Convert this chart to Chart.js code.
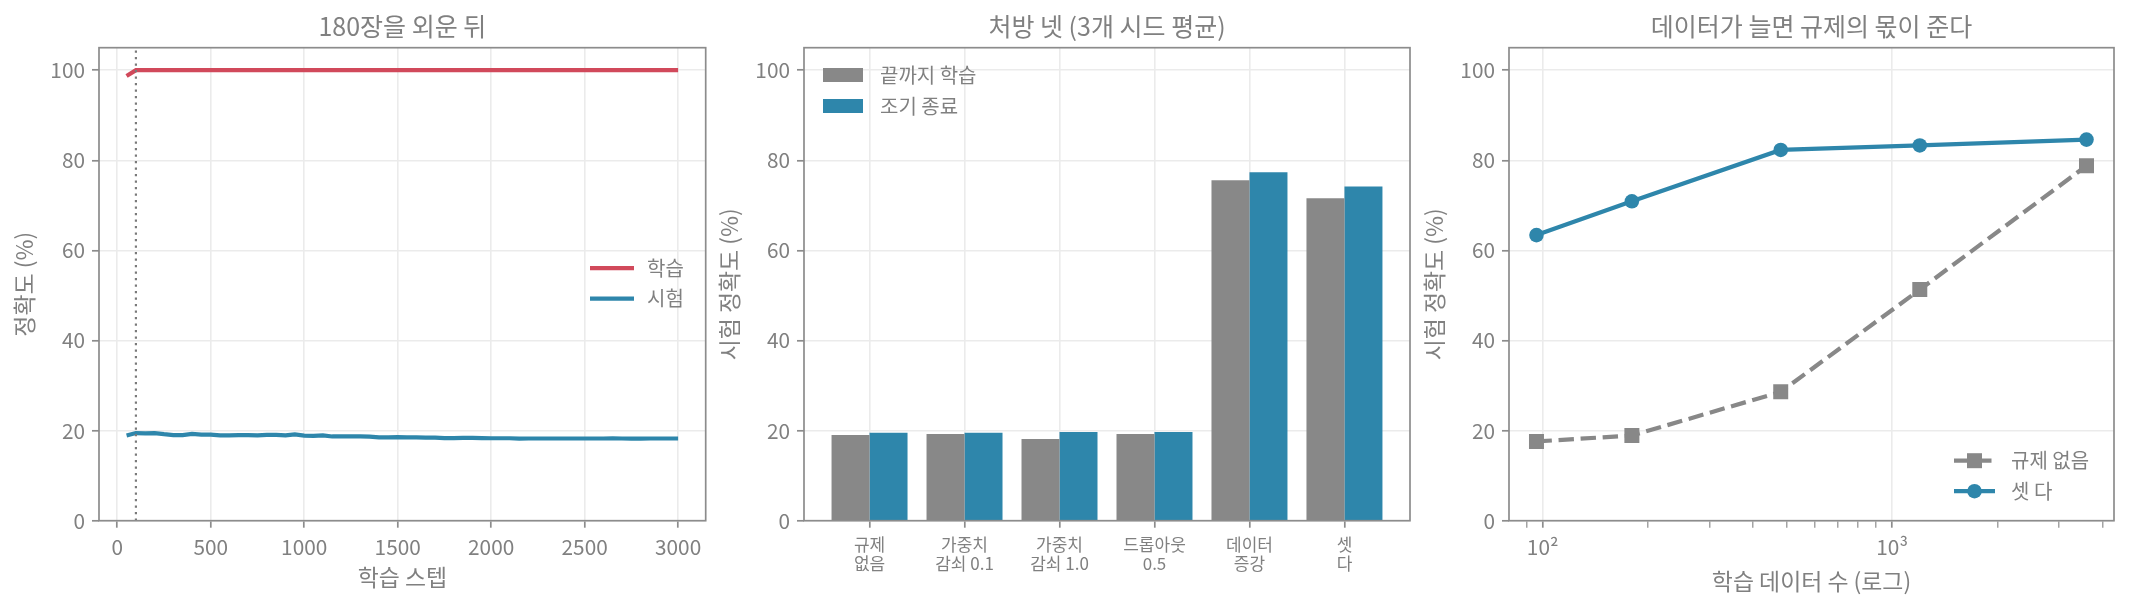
<!DOCTYPE html>
<html><head><meta charset="utf-8">
<script src="https://cdn.jsdelivr.net/npm/chart.js@4.4.1/dist/chart.umd.min.js"></script>
<style>
html,body{margin:0;padding:0;background:#fff;}
#wrap{position:relative;width:2130px;height:610px;background:#fff;}
canvas{position:absolute;top:0;}
</style></head><body>
<div id="wrap">
<canvas id="c1" width="710" height="610" style="left:0px"></canvas>
<canvas id="c2" width="710" height="610" style="left:710px"></canvas>
<canvas id="c3" width="710" height="610" style="left:1420px"></canvas>
</div>
<script>
// ---------- DATA ----------
// Panel 1: training curve after memorising 180 images
const steps = [50,100,150,200,250,300,350,400,450,500,550,600,650,700,750,800,850,900,950,1000,
  1050,1100,1150,1200,1250,1300,1350,1400,1450,1500,1550,1600,1650,1700,1750,1800,1850,1900,1950,2000,
  2050,2100,2150,2200,2250,2300,2350,2400,2450,2500,2550,2600,2650,2700,2750,2800,2850,2900,2950,3000];
const trainAcc = [98.7,100,100,100,100,100,100,100,100,100,100,100,100,100,100,100,100,100,100,100,
  100,100,100,100,100,100,100,100,100,100,100,100,100,100,100,100,100,100,100,100,
  100,100,100,100,100,100,100,100,100,100,100,100,100,100,100,100,100,100,100,100];
const testAcc = [18.9,19.45,19.4,19.45,19.2,19.0,19.0,19.25,19.1,19.1,18.95,18.95,19.0,19.0,18.95,19.05,19.05,18.95,19.15,18.9,
  18.85,18.95,18.7,18.7,18.7,18.7,18.65,18.5,18.5,18.55,18.5,18.5,18.45,18.45,18.35,18.35,18.4,18.4,18.35,18.3,
  18.3,18.3,18.2,18.25,18.25,18.25,18.25,18.25,18.25,18.25,18.25,18.25,18.3,18.25,18.2,18.2,18.25,18.25,18.25,18.25];
const memorizeStep = 100;
const seriesNames1 = ['학습', '시험'];
const stepTicks = [0,500,1000,1500,2000,2500,3000];
const accTicks = [0,20,40,60,80,100];

// Panel 2: four prescriptions (mean of 3 seeds)
const recipes = ['규제\n없음', '가중치\n감쇠 0.1', '가중치\n감쇠 1.0', '드롭아웃\n0.5', '데이터\n증강', '셋\n다'];
const fullTrain = [19.0, 19.25, 18.15, 19.25, 75.6, 71.6];
const earlyStop = [19.5, 19.5, 19.7, 19.7, 77.35, 74.2];
const seriesNames2 = ['끝까지 학습', '조기 종료'];

// Panel 3: more data shrinks the role of regularisation
const dataSizes = [96, 180, 480, 1200, 3600];
const noReg = [17.6, 18.9, 28.6, 51.3, 78.8];
const allThree = [63.4, 70.9, 82.3, 83.3, 84.6];
const seriesNames3 = ['규제 없음', '셋 다'];
const logMajor = [100, 1000];
const logMinor = [90, 200, 300, 400, 500, 600, 700, 800, 900, 2000, 3000, 4000];

const titles = ['180장을 외운 뒤', '처방 넷 (3개 시드 평균)', '데이터가 늘면 규제의 몫이 준다'];

// ---------- STYLE ----------
const RED = '#d1495b', BLUE = '#2e86ab', GRAY = '#888888';
const TXT = '#808080', SPINE = '#8c8c8c', GRID = '#ebebeb';
const FONT = "'Noto Sans CJK KR', 'Noto Sans', sans-serif";
Chart.defaults.font.family = FONT;
Chart.defaults.color = TXT;
Chart.defaults.animation = false;

const framePlugin = {
  id: 'frame',
  afterDatasetsDraw(chart) {
    const a = chart.chartArea, ctx = chart.ctx;
    ctx.save();
    ctx.strokeStyle = SPINE; ctx.lineWidth = 1.7;
    ctx.strokeRect(a.left, a.top, a.right - a.left, a.bottom - a.top);
    ctx.restore();
  }
};
const titlePlugin = {
  id: 'ptitle',
  afterDraw(chart, args, o) {
    const a = chart.chartArea, ctx = chart.ctx;
    ctx.save();
    ctx.font = '25px ' + FONT; ctx.fillStyle = TXT;
    ctx.textAlign = 'center'; ctx.textBaseline = 'middle';
    ctx.fillText(o.text, (a.left + a.right) / 2, o.y);
    ctx.restore();
  }
};
const legendPlugin = {
  id: 'inlegend',
  afterDraw(chart, args, o) {
    const a = chart.chartArea, ctx = chart.ctx;
    const x0 = o.anchor === 'right' ? a.right + o.dx : a.left + o.dx;
    let y = o.vanchor === 'bottom' ? a.bottom + o.dy : (o.vanchor === 'middle' ? (a.top + a.bottom) / 2 + o.dy : a.top + o.dy);
    ctx.save();
    chart.data.datasets.forEach(ds => {
      if (!ds.label) return;
      if (o.kind === 'box') {
        ctx.fillStyle = ds.backgroundColor;
        ctx.fillRect(x0, y - 7, 40, 14);
      } else {
        ctx.strokeStyle = ds.borderColor; ctx.lineWidth = ds.borderWidth;
        ctx.setLineDash(ds.borderDash || []); ctx.lineCap = 'butt';
        ctx.beginPath(); ctx.moveTo(x0, y); ctx.lineTo(x0 + o.len, y); ctx.stroke();
        ctx.setLineDash([]);
        if (o.kind === 'marker') {
          ctx.fillStyle = ds.pointBackgroundColor; ctx.strokeStyle = ds.pointBorderColor; ctx.lineWidth = 0.5;
          Chart.helpers.drawPoint(ctx, {pointStyle: ds.pointStyle, radius: ds.pointRadius, rotation: 0, borderWidth: 0}, x0 + o.len / 2, y);
        }
      }
      ctx.font = '20px ' + FONT; ctx.fillStyle = TXT;
      ctx.textAlign = 'left'; ctx.textBaseline = 'middle';
      ctx.fillText(ds.label, x0 + 57, y);
      y += o.gap;
    });
    ctx.restore();
  }
};

function fixTicks(list) { return scale => { scale.ticks = list.map(v => ({value: v})); }; }
function yAxis(width, title, titlePad) {
  return {
    min: 0, max: 105,
    afterBuildTicks: fixTicks(accTicks),
    afterFit: s => { s.width = width; },
    ticks: {font: {size: 20.8}, padding: 7, color: TXT, callback: v => String(v)},
    grid: {color: GRID, lineWidth: 1.6, tickLength: 7, tickColor: SPINE, tickWidth: 1.7},
    border: {display: false},
    title: {display: true, text: title, font: {size: 22.9}, color: TXT, padding: {top: titlePad, bottom: 0}}
  };
}

// ---------- PANEL 1 ----------
new Chart(document.getElementById('c1'), {
  type: 'line',
  data: {
    datasets: [
      {data: [{x: memorizeStep, y: 0}, {x: memorizeStep, y: 105}], borderColor: '#7a7a7a', borderWidth: 2.2,
       borderDash: [2.2, 4.3], pointRadius: 0},
      {label: seriesNames1[0], data: steps.map((s, i) => ({x: s, y: trainAcc[i]})), borderColor: RED, borderWidth: 4.2, pointRadius: 0, tension: 0},
      {label: seriesNames1[1], data: steps.map((s, i) => ({x: s, y: testAcc[i]})), borderColor: BLUE, borderWidth: 4.2, pointRadius: 0, tension: 0}
    ]
  },
  options: {
    responsive: false, devicePixelRatio: 1,
    layout: {padding: {left: 0, right: 4.3, top: 47.7, bottom: 0}},
    plugins: {legend: {display: false}, tooltip: {enabled: false},
      ptitle: {text: titles[0], y: 26},
      inlegend: {kind: 'line', anchor: 'right', dx: -115.7, vanchor: 'middle', dy: -16, gap: 30.5, len: 44}},
    scales: {
      x: {type: 'linear', min: -97.5, max: 3147.5,
          afterBuildTicks: fixTicks(stepTicks),
          afterFit: s => { s.height = 89.3; },
          ticks: {font: {size: 20.8}, padding: 7, color: TXT, maxRotation: 0, autoSkip: false, callback: v => String(v)},
          grid: {color: GRID, lineWidth: 1.6, tickLength: 7, tickColor: SPINE, tickWidth: 1.7},
          border: {display: false},
          title: {display: true, text: '학습 스텝', font: {size: 22.9}, color: TXT, padding: {top: 0, bottom: 19.3}}},
      y: yAxis(99, '정확도 (%)', 10.3)
    }
  },
  plugins: [framePlugin, titlePlugin, legendPlugin]
});

// ---------- PANEL 2 ----------
new Chart(document.getElementById('c2'), {
  type: 'bar',
  data: {
    datasets: [
      {label: seriesNames2[0], data: fullTrain.map((v, i) => ({x: i, y: v})), backgroundColor: GRAY, borderWidth: 0,
       categoryPercentage: 0.8, barPercentage: 1.0},
      {label: seriesNames2[1], data: earlyStop.map((v, i) => ({x: i, y: v})), backgroundColor: BLUE, borderWidth: 0,
       categoryPercentage: 0.8, barPercentage: 1.0}
    ]
  },
  options: {
    responsive: false, devicePixelRatio: 1,
    layout: {padding: {left: 0, right: 10, top: 47.7, bottom: 0}},
    plugins: {legend: {display: false}, tooltip: {enabled: false},
      ptitle: {text: titles[1], y: 26},
      inlegend: {kind: 'box', anchor: 'left', dx: 19, vanchor: 'top', dy: 27.3, gap: 31}},
    scales: {
      x: {type: 'linear', min: -0.69, max: 5.69, offset: false,
          afterBuildTicks: fixTicks(recipes.map((r, i) => i)),
          afterFit: s => { s.height = 89.3; },
          ticks: {font: {size: 17, lineHeight: 1.15}, padding: 7, color: TXT, maxRotation: 0, autoSkip: false,
                  callback: v => recipes[v] !== undefined ? recipes[v].split('\n') : ''},
          grid: {color: GRID, lineWidth: 1.6, tickLength: 7, tickColor: SPINE, tickWidth: 1.7, offset: false},
          border: {display: false}},
      y: yAxis(94, '시험 정확도 (%)', 5.3)
    }
  },
  plugins: [framePlugin, titlePlugin, legendPlugin]
});

// ---------- PANEL 3 ----------
const allLogTicks = logMinor.concat(logMajor).sort((a, b) => a - b);
new Chart(document.getElementById('c3'), {
  type: 'line',
  data: {
    datasets: [
      {label: seriesNames3[0], data: dataSizes.map((n, i) => ({x: n, y: noReg[i]})), borderColor: GRAY, borderWidth: 4.2,
       borderDash: [15.4, 6.7], pointStyle: 'rect', pointRadius: 10.6, pointBackgroundColor: GRAY, pointBorderColor: GRAY,
       pointBorderWidth: 0, tension: 0},
      {label: seriesNames3[1], data: dataSizes.map((n, i) => ({x: n, y: allThree[i]})), borderColor: BLUE, borderWidth: 4.2,
       pointStyle: 'circle', pointRadius: 7.3, pointBackgroundColor: BLUE, pointBorderColor: BLUE,
       pointBorderWidth: 0, tension: 0}
    ]
  },
  options: {
    responsive: false, devicePixelRatio: 1,
    layout: {padding: {left: 0, right: 16, top: 47.7, bottom: 0}},
    plugins: {legend: {display: false}, tooltip: {enabled: false},
      ptitle: {text: titles[2], y: 26},
      inlegend: {kind: 'marker', anchor: 'right', dx: -160, vanchor: 'bottom', dy: -60, gap: 30.5, len: 41}},
    scales: {
      x: {type: 'logarithmic', min: 80.1, max: 4315,
          afterBuildTicks: fixTicks(allLogTicks),
          afterFit: s => { s.height = 89.3; },
          ticks: {font: {size: 20.8}, padding: 7, color: TXT, maxRotation: 0, autoSkip: false,
                  callback: v => v === logMajor[0] ? '10²' : (v === logMajor[1] ? '10³' : '')},
          grid: {color: c => (c.tick && logMajor.includes(c.tick.value)) ? GRID : 'rgba(0,0,0,0)', lineWidth: 1.6,
                 tickLength: 7, tickColor: SPINE, tickWidth: c => (c.tick && logMajor.includes(c.tick.value)) ? 1.7 : 1.2},
          border: {display: false},
          title: {display: true, text: '학습 데이터 수 (로그)', font: {size: 22.9}, color: TXT, padding: {top: 0, bottom: 15.3}}},
      y: yAxis(89, '시험 정확도 (%)', 0.3)
    }
  },
  plugins: [framePlugin, titlePlugin, legendPlugin]
});
</script>
</body></html>
